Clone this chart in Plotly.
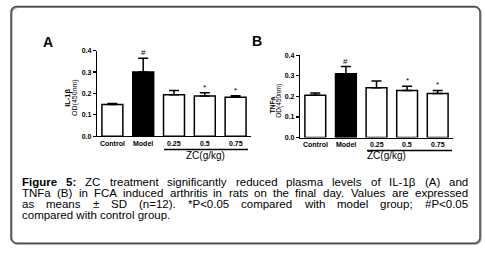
import math
import plotly.graph_objects as go

# ---------------- data ----------------
groups = ["Control", "Model", "0.25", "0.5", "0.75"]
il1b_mean = [0.148, 0.300, 0.194, 0.188, 0.182]
il1b_sd = [0.005, 0.065, 0.020, 0.015, 0.008]
tnfa_mean = [0.205, 0.310, 0.242, 0.229, 0.214]
tnfa_sd = [0.012, 0.035, 0.033, 0.020, 0.015]
fills = ["white", "black", "white", "white", "white"]
il1b_marks = ["", "#", "", "*", "*"]
tnfa_marks = ["", "#", "", "*", "*"]
y_ticks = [0.0, 0.1, 0.2, 0.3, 0.4]

caption_lines = [
    "<b>Figure</b> <b>5:</b> ZC treatment significantly reduced plasma levels of IL-1β (A) and",
    "TNFa (B) in FCA induced arthritis in rats on the final day. Values are expressed",
    "as means ± SD (n=12). *P<0.05 compared with model group; #P<0.05",
    "compared with control group.",
]

W, H = 485, 256
FONT = "Liberation Sans, Arial, sans-serif"


def X(p):
    return p / W


def Y(p):
    return 1 - p / H


fig = go.Figure()
idx = list(range(len(groups)))

panels = [
    dict(xa="x", ya="y", mean=il1b_mean, sd=il1b_sd, marks=il1b_marks, lab_y=143.5),
    dict(xa="x2", ya="y2", mean=tnfa_mean, sd=tnfa_sd, marks=tnfa_marks, lab_y=144.5),
]
for p in panels:
    fig.add_trace(go.Bar(
        x=idx, y=p["mean"], xaxis=p["xa"], yaxis=p["ya"],
        width=0.68,
        marker=dict(color=fills, line=dict(color="black", width=1.5)),
        error_y=dict(type="data", symmetric=False, array=p["sd"],
                     arrayminus=[0] * len(groups), color="black",
                     thickness=1.5, width=5),
        showlegend=False, hoverinfo="skip",
    ))
    for i, (m, s, t) in enumerate(zip(p["mean"], p["sd"], p["marks"])):
        if t:
            fig.add_annotation(x=i, y=m + s, xref=p["xa"], yref=p["ya"],
                               text=t, showarrow=False, yanchor="bottom",
                               yshift=-1, font=dict(family=FONT, size=8, color="black"))
    for i, g in enumerate(groups):
        fig.add_annotation(x=i, y=Y(p["lab_y"]), xref=p["xa"], yref="paper",
                           text=g, showarrow=False, yanchor="middle",
                           font=dict(family=FONT, size=7, color="black", weight="bold"))

axis_common_y = dict(range=[0, 0.4], showline=True, linecolor="black", linewidth=1.2,
                     ticks="outside", ticklen=3, tickwidth=1.2, tickcolor="black",
                     tickvals=y_ticks, ticktext=["%.1f" % v for v in y_ticks],
                     tickfont=dict(family=FONT, size=7, color="black", weight="bold"),
                     showgrid=False, zeroline=False, fixedrange=True)
axis_common_x = dict(showline=True, linecolor="black", linewidth=1.2, ticks="",
                     showticklabels=False, showgrid=False, zeroline=False,
                     range=[-0.5, 4.5], fixedrange=True)

fig.update_layout(
    width=W, height=H, margin=dict(l=0, r=0, t=0, b=0),
    paper_bgcolor="white", plot_bgcolor="white",
    xaxis=dict(domain=[X(97), X(251)], anchor="y", **axis_common_x),
    yaxis=dict(domain=[Y(136), Y(48)], anchor="x", **axis_common_y),
    xaxis2=dict(domain=[X(300), X(453)], anchor="y2", **axis_common_x),
    yaxis2=dict(domain=[Y(137.3), Y(52.7)], anchor="x2", **axis_common_y),
)


def ann(x, y, text, size, **kw):
    d = dict(x=X(x), y=Y(y), xref="paper", yref="paper", text=text, showarrow=False,
             font=dict(family=FONT, size=size, color=kw.pop("color", "black")))
    d.update(kw)
    fig.add_annotation(**d)


# panel letters
ann(41, 29, "<b>A</b>", 14)
ann(257, 28, "<b>B</b>", 14)

# y titles
ann(61, 97, "<b>IL-1β</b>", 7.5, textangle=-90)
ann(69.5, 96, "OD(450nm)", 7, textangle=-90)
ann(272, 104, "<b>TNFa</b>", 6.5, textangle=-90)
ann(279.5, 100, "OD(450nm)", 6.5, textangle=-90)

# ZC group lines and labels
for x0, x1, yy, xc in [(164, 248, 149.5, 205), (367, 452, 150.7, 408)]:
    fig.add_shape(type="line", xref="paper", yref="paper", x0=X(x0), x1=X(x1),
                  y0=Y(yy), y1=Y(yy), line=dict(color="black", width=1.5))
    ann(xc, 155.5, "ZC(g/kg)", 10)

# rounded border (polyline) with a light shadow on bottom/right
bx0, by0, bx1, by1, r = 11, 2.5, 480, 246, 6


def rounded_path(dx=0.0, dy=0.0):
    pts = []
    corners = [(bx1 - r, by0 + r, -90), (bx1 - r, by1 - r, 0),
               (bx0 + r, by1 - r, 90), (bx0 + r, by0 + r, 180)]
    for cx, cy, a0 in corners:
        for k in range(7):
            a = math.radians(a0 + 15 * k)
            pts.append((cx + r * math.cos(a) + dx, cy + r * math.sin(a) + dy))
    return "M " + " L ".join("%.5f,%.5f" % (X(px), Y(py)) for px, py in pts) + " Z"


fig.add_shape(type="path", xref="paper", yref="paper", path=rounded_path(0.9, 0.9),
              line=dict(color="#9a9a9a", width=1.4))
fig.add_shape(type="path", xref="paper", yref="paper", path=rounded_path(),
              line=dict(color="#4a4a4a", width=1.5))

# ---------------- caption (justified) ----------------
REG = {" ": 278, "#": 556, "(": 333, ")": 333, "*": 389, "-": 333, ".": 278, ":": 278,
       ";": 278, "<": 584, "=": 584, "±": 549, "β": 575}
for ch in "0123456789":
    REG[ch] = 556
REG.update(dict(zip("ABCDEFGHIJKLMNOPQRSTUVWXYZ",
                    [667, 667, 722, 722, 667, 611, 778, 722, 278, 500, 667, 556, 833, 722,
                     778, 667, 778, 722, 667, 611, 722, 667, 944, 667, 667, 611])))
REG.update(dict(zip("abcdefghijklmnopqrstuvwxyz",
                    [556, 556, 500, 556, 556, 278, 556, 556, 222, 222, 500, 222, 833, 556,
                     556, 556, 556, 333, 500, 278, 556, 500, 722, 500, 500, 500])))
BOLD = {"F": 611, "i": 278, "g": 611, "u": 611, "r": 389, "e": 556, "5": 556, ":": 333}

CAP_SIZE = 11.5
LEFT, RIGHT = 21, 467
baselines = [187.5, 198.7, 209.9, 221.1]


def word_width(w):
    bold = w.startswith("<b>")
    raw = w.replace("<b>", "").replace("</b>", "")
    tab = BOLD if bold else REG
    return sum(tab.get(c, 556) for c in raw) * CAP_SIZE / 1000.0


for i, line in enumerate(caption_lines):
    yc = baselines[i] - 4.0
    if i == len(caption_lines) - 1:
        fig.add_annotation(x=X(LEFT), y=Y(yc), xref="paper", yref="paper", text=line,
                           showarrow=False, xanchor="left", yanchor="middle", borderpad=0,
                           font=dict(family=FONT, size=CAP_SIZE, color="black"))
        continue
    words = line.split(" ")
    widths = [word_width(w) for w in words]
    gap = (RIGHT - LEFT - sum(widths)) / (len(words) - 1)
    xpos = LEFT
    for w, wd in zip(words, widths):
        fig.add_annotation(x=X(xpos), y=Y(yc), xref="paper", yref="paper", text=w,
                           showarrow=False, xanchor="left", yanchor="middle", borderpad=0,
                           font=dict(family=FONT, size=CAP_SIZE, color="black"))
        xpos += wd + gap

fig.write_html("out.html", config={"displayModeBar": False, "staticPlot": True},
               post_script="document.body.style.margin='0';document.body.style.overflow='hidden';")
